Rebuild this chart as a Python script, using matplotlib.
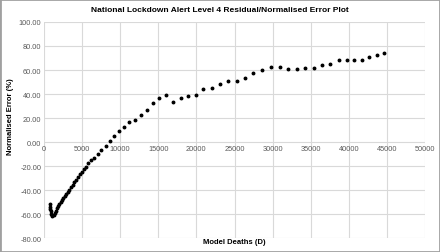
import matplotlib
matplotlib.use("Agg")
import matplotlib.pyplot as plt
from matplotlib.patches import Rectangle
from matplotlib.ticker import FormatStrFormatter, MultipleLocator

plt.rcParams['font.family'] = ['Liberation Sans', 'DejaVu Sans']

# Model deaths (D) and the normalised error (%)
deaths = [724, 763, 803, 855, 921, 1000, 1105, 1276, 1408, 1539, 1671, 1842,
          2013, 2197, 2368, 2539, 2724, 2934, 3118, 3329, 3553, 3776, 3987,
          4211, 4434, 4697, 4961, 5263, 5526, 5790, 6145, 6540, 7066, 7539,
          8118, 8645, 9211, 9829, 10434, 11184, 11934, 12671, 13461, 14303,
          15132, 16013, 16934, 17934, 18908, 19908, 20880, 22013, 23066,
          24171, 25263, 26355, 27461, 28592, 29776, 30921, 32013, 33158,
          34250, 35395, 36487, 37539, 38645, 39737, 40697, 41750, 42671,
          43645, 44566]
error = [-51.7, -53.8, -55.8, -57.9, -59.6, -61.0, -61.8, -60.8, -59.2, -57.3,
         -55.3, -53.1, -51.4, -49.8, -48.1, -46.4, -44.8, -43.1, -41.4, -39.7,
         -37.5, -35.6, -33.6, -31.4, -29.2, -26.9, -24.8, -22.8, -20.8, -17.9,
         -15.4, -13.3, -10.0, -6.4, -3.3, 0.6, 4.7, 9.4, 12.2, 16.7, 18.3,
         22.5, 26.7, 32.3, 36.4, 38.9, 33.1, 36.9, 38.6, 39.4, 43.9, 45.0,
         48.3, 50.6, 50.8, 53.6, 57.5, 59.8, 62.8, 62.3, 60.8, 61.1, 61.4,
         61.9, 63.9, 65.3, 68.1, 68.3, 68.6, 68.6, 70.6, 72.3, 73.9]

title = "National Lockdown Alert Level 4 Residual/Normalised Error Plot"
xlabel = "Model Deaths (D)"
ylabel = "Normalised Error (%)"

fig = plt.figure(figsize=(4.4, 2.53), dpi=100)
ax = fig.add_axes([0.1, 0.0553, 0.866, 0.8538])

ax.plot(deaths, error, linestyle='none', marker='o', ms=1.8,
        color='black', mec='black')

ax.set_xlim(0, 50000)
ax.set_ylim(-80, 100)
ax.xaxis.set_major_locator(MultipleLocator(5000))
ax.yaxis.set_major_locator(MultipleLocator(20))
ax.yaxis.set_major_formatter(FormatStrFormatter('%.2f'))

# x axis crosses at y = 0, like the Excel original
ax.spines['bottom'].set_position(('data', 0))
for s in ['top', 'right', 'left', 'bottom']:
    ax.spines[s].set_visible(False)
ax.grid(True, color='#d9d9d9', lw=0.8)
ax.set_axisbelow(True)
ax.tick_params(length=0, labelsize=5.3, colors='#595959', pad=2)

fig.text(0.5, 0.96, title, ha='center', va='center', fontsize=6,
         fontweight='bold', color='black')
fig.text(0.533, 0.04, xlabel, ha='center', va='center', fontsize=5.5,
         fontweight='bold')
fig.text(0.023, 0.54, ylabel, ha='center', va='center', fontsize=5.5,
         fontweight='bold', rotation=90)

fig.patches.append(Rectangle((0, 0), 1, 1, transform=fig.transFigure,
                             fill=False, edgecolor='#a0a0a0', lw=2))

fig.savefig('out.png', dpi=100)
